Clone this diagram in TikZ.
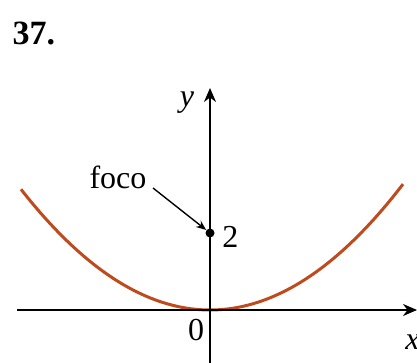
\documentclass[tikz,border=0pt]{standalone}
\usepackage{fontspec}
\setmainfont{Liberation Serif}
\usetikzlibrary{arrows.meta}
\definecolor{curve}{HTML}{BF4A1C}
\begin{document}
\begin{tikzpicture}[x=0.5pt,y=-0.5pt,
  axis/.style={line width=1pt,-{Stealth[length=7pt,width=6pt]}},
  lbl/.style={inner sep=0pt,font=\fontsize{16}{18}\selectfont},
  pointer/.style={line width=0.7pt,-{Stealth[length=5pt,width=4pt]}}]
\useasboundingbox (0,0) rectangle (417,363);
% parabola
\draw[curve,line width=1.5pt,domain=-189:193,samples=80] plot ({210+\x},{310-122*(\x/190)*(\x/190)});
% axes
\coordinate (xl) at (17,310);
\coordinate (xr) at (417,310);
\coordinate (yb) at (210,363);
\coordinate (yt) at (210,88);
\draw[axis] (xl) -- (xr);
\draw[axis] (yb) -- (yt);
% focus
\node[circle,fill=black,inner sep=0pt,minimum size=4.5pt] (F) at (210,233) {};
\node[lbl,anchor=west] (two) at (222,237) {2};
\node[lbl] (foco) at (118,177) {foco};
\coordinate (fs) at (153,188);
\draw[pointer] (fs) -- (F);
% labels
\node[lbl] (ylab) at (187,103) {\itshape y};
\node[lbl] (zero) at (196,330) {0};
\node[lbl,anchor=west] (xlab) at (405,342) {\itshape x};
\node[lbl,font=\fontsize{17}{19}\selectfont\bfseries] (num) at (34,33) {37.};
\end{tikzpicture}
\end{document}
